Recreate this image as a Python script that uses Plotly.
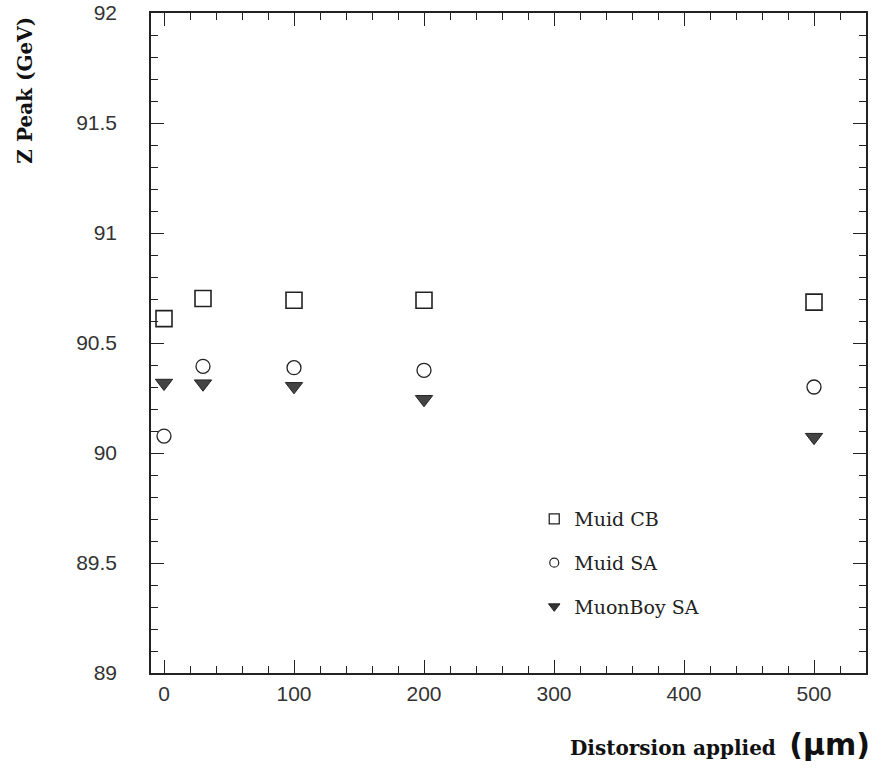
import plotly.graph_objects as go

distortion = [0, 30, 100, 200, 500]
muid_cb = [90.611, 90.702, 90.694, 90.694, 90.686]
muid_sa = [90.077, 90.394, 90.388, 90.376, 90.300]
muonboy_sa = [90.318, 90.315, 90.303, 90.244, 90.072]
series_names = ["Muid CB", "Muid SA", "MuonBoy SA"]

styles = [
    dict(symbol="square-open", size=16, color="#222", line=dict(width=1.6, color="#222")),
    dict(symbol="circle-open", size=14, color="#222", line=dict(width=1.3, color="#222")),
    dict(symbol="triangle-down", size=15, color="#444", line=dict(width=1, color="#222")),
]
legend_styles = [
    dict(symbol="square-open", size=10, color="#222", line=dict(width=1.3, color="#222")),
    dict(symbol="circle-open", size=9, color="#222", line=dict(width=1.2, color="#222")),
    dict(symbol="triangle-down", size=10, color="#333", line=dict(width=1, color="#222")),
]

fig = go.Figure()
for name, ys, st, lst in zip(series_names, [muid_cb, muid_sa, muonboy_sa], styles, legend_styles):
    fig.add_trace(go.Scatter(x=distortion, y=ys, mode="markers", marker=st,
                             showlegend=False, name=name))
    fig.add_trace(go.Scatter(x=[None], y=[None], mode="markers", marker=lst,
                             name=name, legendgroup=name, showlegend=True))

axis_common = dict(
    showgrid=False, zeroline=False, showline=True, linecolor="#222", linewidth=1.5,
    mirror="ticks", ticks="inside", tickcolor="#222", tickwidth=1.3, ticklen=13,
    tickfont=dict(family="Liberation Sans", size=21, color="#333"), automargin=False,
)

fig.update_xaxes(range=[-10, 540], tickmode="linear", tick0=0, dtick=100,
                 minor=dict(dtick=20, tick0=0, ticks="inside", ticklen=7, tickcolor="#222", tickwidth=1.3, showgrid=False),
                 ticklabelstandoff=1, **axis_common)
fig.update_yaxes(range=[89, 92], tickmode="linear", tick0=89, dtick=0.5,
                 minor=dict(dtick=0.1, tick0=89, ticks="inside", ticklen=7, tickcolor="#222", tickwidth=1.3, showgrid=False),
                 ticklabelstandoff=28, **axis_common)

fig.add_annotation(xref="paper", yref="paper", x=-0.176, y=0.997, xanchor="center", yanchor="top",
                   text="<b>Z Peak (GeV)</b>", textangle=-90, showarrow=False,
                   font=dict(family="DejaVu Serif", size=20, color="#111"))
fig.add_annotation(xref="paper", yref="paper", x=1.0084, y=-0.108, xanchor="right", yanchor="middle",
                   text="<b>Distorsion applied </b> <span style='font-family:DejaVu Sans;font-size:30px'><b>(\u03bcm)</b></span>",
                   showarrow=False, font=dict(family="DejaVu Serif", size=20, color="#111"))

fig.update_layout(
    width=882, height=768, margin=dict(l=151, r=16, t=13, b=95),
    paper_bgcolor="white", plot_bgcolor="white",
    legend=dict(x=0.536, y=0.262, xanchor="left", yanchor="top", bgcolor="rgba(0,0,0,0)",
                font=dict(family="DejaVu Serif", size=19, color="#222"),
                traceorder="grouped", tracegroupgap=16, itemwidth=30),
)

fig.write_html("out.html")
